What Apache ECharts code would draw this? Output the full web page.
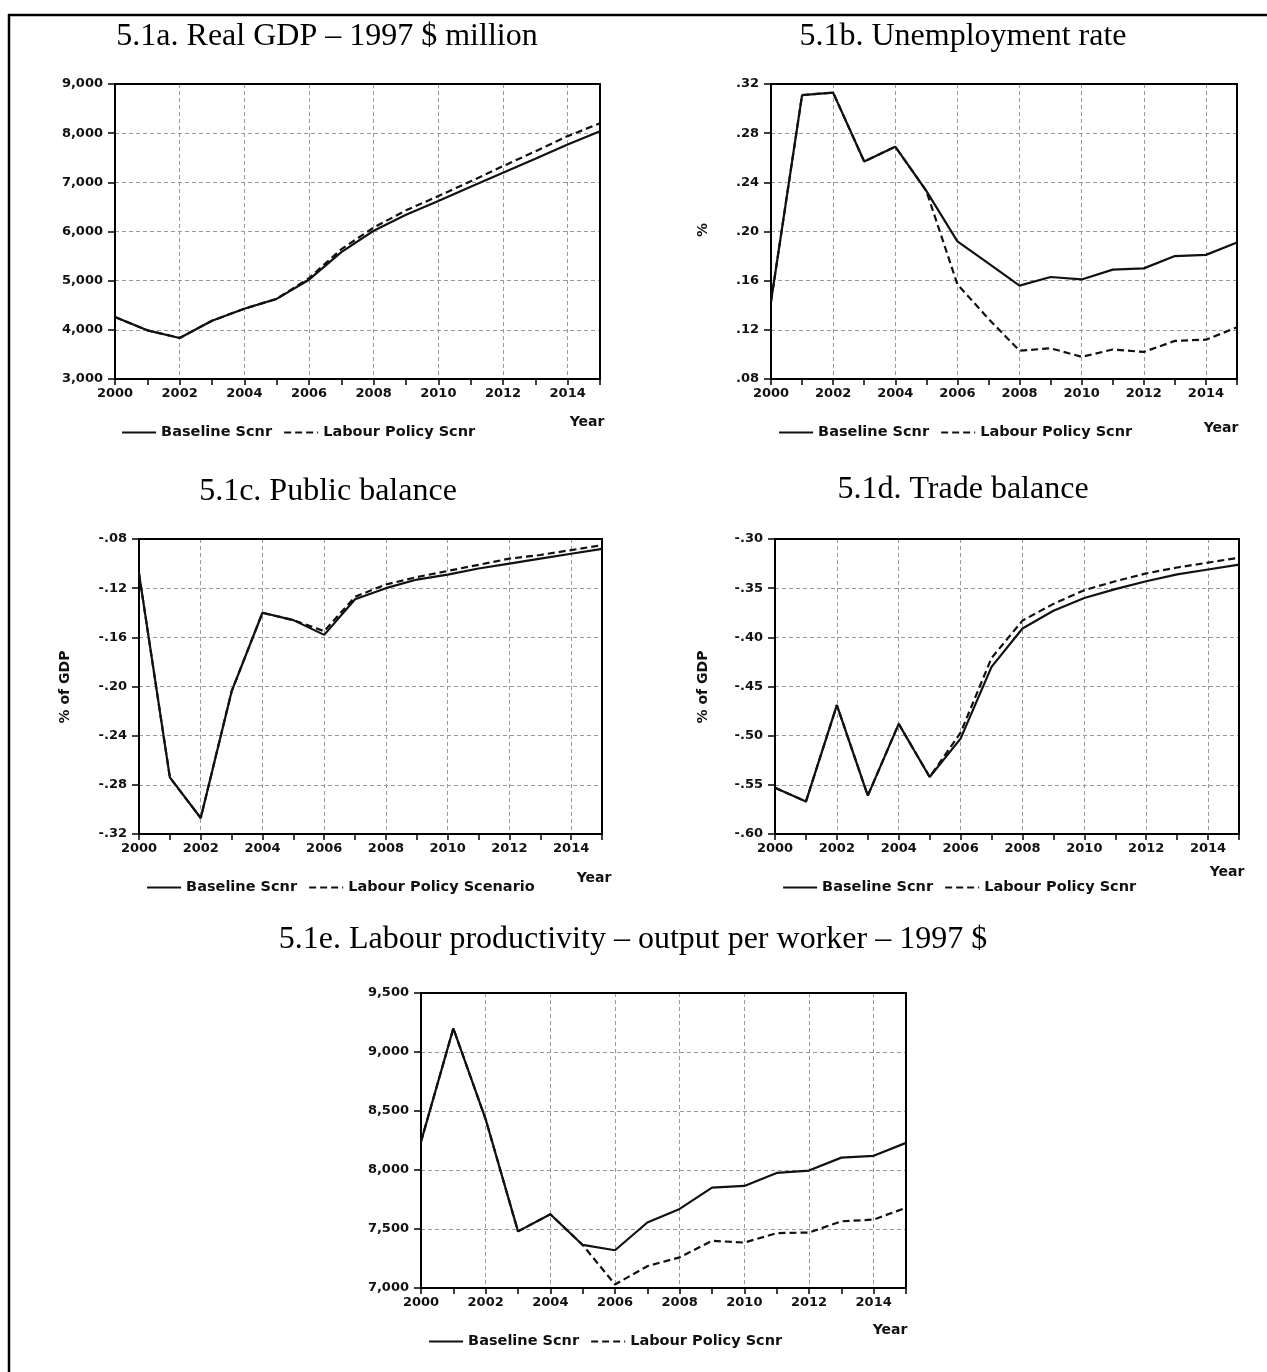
<!DOCTYPE html>
<html>
<head>
<meta charset="utf-8">
<script src="https://cdn.jsdelivr.net/npm/echarts@6/dist/echarts.min.js"></script>
<style>
html,body{margin:0;padding:0;background:#fff;}
#chart{width:1267px;height:1372px;}
</style>
</head>
<body>
<div id="chart"></div>
<script>
// ---------------- DATA ----------------
const years = ['2000','2001','2002','2003','2004','2005','2006','2007','2008','2009','2010','2011','2012','2013','2014','2015'];

const titles = [
  '5.1a. Real GDP \u2013 1997 $ million',
  '5.1b. Unemployment rate',
  '5.1c. Public balance',
  '5.1d. Trade balance',
  '5.1e. Labour productivity \u2013 output per worker \u2013 1997 $'
];
const baseName = 'Baseline Scnr';
const labourNames = ['Labour Policy Scnr','Labour Policy Scnr','Labour Policy Scenario','Labour Policy Scnr','Labour Policy Scnr'];
const yNames = ['', '%', '% of GDP', '% of GDP', ''];

const gdpBase    = [4260, 3990, 3835, 4185, 4430, 4630, 5020, 5580, 6015, 6340, 6620, 6910, 7195, 7480, 7770, 8040];
const gdpLabour  = [4260, 3990, 3835, 4185, 4430, 4630, 5050, 5640, 6080, 6430, 6720, 7020, 7330, 7630, 7940, 8200];

const unempBase   = [0.143, 0.311, 0.313, 0.257, 0.269, 0.233, 0.192, 0.174, 0.156, 0.163, 0.161, 0.169, 0.170, 0.180, 0.181, 0.191];
const unempLabour = [0.143, 0.311, 0.313, 0.257, 0.269, 0.233, 0.157, 0.129, 0.103, 0.105, 0.098, 0.104, 0.102, 0.111, 0.112, 0.122];

const publicBase   = [-0.108, -0.274, -0.307, -0.204, -0.140, -0.146, -0.158, -0.129, -0.120, -0.113, -0.109, -0.104, -0.100, -0.096, -0.092, -0.088];
const publicLabour = [-0.108, -0.274, -0.307, -0.204, -0.140, -0.146, -0.155, -0.127, -0.117, -0.111, -0.106, -0.101, -0.096, -0.093, -0.089, -0.085];

const tradeBase   = [-0.553, -0.567, -0.469, -0.561, -0.488, -0.542, -0.503, -0.430, -0.391, -0.373, -0.360, -0.351, -0.343, -0.336, -0.331, -0.326];
const tradeLabour = [-0.553, -0.567, -0.469, -0.561, -0.488, -0.542, -0.497, -0.421, -0.383, -0.366, -0.352, -0.343, -0.335, -0.329, -0.324, -0.319];

const prodBase   = [8240, 9200, 8430, 7480, 7625, 7365, 7320, 7555, 7670, 7850, 7865, 7975, 7995, 8105, 8120, 8230];
const prodLabour = [8240, 9200, 8430, 7480, 7625, 7365, 7030, 7185, 7260, 7400, 7385, 7465, 7470, 7565, 7580, 7680];

// y-axis ranges (min, max, interval)
const yMin = [3000, 0.08, -0.32, -0.60, 7000];
const yMax = [9000, 0.32, -0.08, -0.30, 9500];
const yStep = [1000, 0.04, 0.04, 0.05, 500];

const baseSeries = [gdpBase, unempBase, publicBase, tradeBase, prodBase];
const labourSeries = [gdpLabour, unempLabour, publicLabour, tradeLabour, prodLabour];

// ---------------- LAYOUT ----------------
const layout = [
  {grid:{left:115, top:84,  width:485, height:295}, title:[327,37],  yname:null,     year:[587,422],  legend:[121,425]},
  {grid:{left:771, top:84,  width:466, height:295}, title:[963,37],  yname:[703,230], year:[1221,428], legend:[778,425]},
  {grid:{left:139, top:539, width:463, height:295}, title:[328,492], yname:[65,687],  year:[594,878],  legend:[146,880]},
  {grid:{left:775, top:539, width:464, height:295}, title:[963,490], yname:[703,687], year:[1227,872], legend:[782,880]},
  {grid:{left:421, top:993, width:485, height:295}, title:[633,940], yname:null,     year:[890,1330], legend:[428,1334]}
];

const BOLD = '"DejaVu Sans", Arial, sans-serif';
const SERIF = '"Liberation Serif", "Times New Roman", serif';

function fmtY(v, i) {
  if (i === 0 || i === 4) return Math.round(v).toLocaleString('en-US');
  let s = Math.abs(v).toFixed(2).replace(/^0\./, '.');
  return (v < -1e-9 ? '-' : '') + s;
}

const grids = [], xAxes = [], yAxes = [], series = [], legends = [], graphics = [];

for (let i = 0; i < 5; i++) {
  const L = layout[i];
  grids.push(Object.assign({show:true, borderColor:'#000', borderWidth:2, backgroundColor:'transparent', z:3}, L.grid));
  xAxes.push({
    type:'category', gridIndex:i, data:years, boundaryGap:false,
    axisLine:{show:true, lineStyle:{color:'#000', width:2}},
    axisTick:{show:true, interval:0, length:6, lineStyle:{color:'#000', width:1.5}},
    axisLabel:{interval:1, margin:8, color:'#111', fontFamily:BOLD, fontWeight:'bold', fontSize:13},
    splitLine:{show:true, interval:function(idx){ return idx > 0 && idx % 2 === 0 && idx < 15; },
      lineStyle:{color:'#999', type:[4,3], width:1}}
  });
  yAxes.push({
    type:'value', gridIndex:i, min:yMin[i], max:yMax[i], interval:yStep[i],
    axisLine:{show:true, lineStyle:{color:'#000', width:2}},
    axisTick:{show:true, length:7, lineStyle:{color:'#000', width:1.5}},
    axisLabel:{margin:12, color:'#111', fontFamily:BOLD, fontWeight:'bold', fontSize:13,
      formatter:(function(idx){ return function(v){ return fmtY(v, idx); }; })(i)},
    splitLine:{show:true, lineStyle:{color:'#999', type:[4,3], width:1}}
  });
  series.push({
    name:baseName, type:'line', xAxisIndex:i, yAxisIndex:i, data:baseSeries[i],
    symbol:'none', lineStyle:{color:'#111', width:2.2, type:'solid'}, itemStyle:{color:'#111'},
    animation:false, z:4
  });
  series.push({
    name:labourNames[i], type:'line', xAxisIndex:i, yAxisIndex:i, data:labourSeries[i],
    symbol:'none', lineStyle:{color:'#111', width:2.2, type:[7,4]}, itemStyle:{color:'#111'},
    animation:false, z:5
  });
  legends.push({
    data:[baseName, labourNames[i]], left:L.legend[0], top:L.legend[1], orient:'horizontal',
    padding:0, itemWidth:34, itemHeight:14, itemGap:11, selectedMode:false,
    itemStyle:{color:'rgba(0,0,0,0)', borderWidth:0, opacity:0},
    lineStyle:{width:2.2},
    textStyle:{fontFamily:BOLD, fontWeight:'bold', fontSize:14.5, color:'#111'}
  });
  graphics.push({type:'text', x:L.title[0], y:L.title[1], style:{text:titles[i], font:'32px ' + SERIF, fill:'#000', textAlign:'center', textVerticalAlign:'middle'}});
  graphics.push({type:'text', x:L.year[0], y:L.year[1], style:{text:'Year', font:'bold 14px ' + BOLD, fill:'#111', textAlign:'center', textVerticalAlign:'middle'}});
  if (L.yname) {
    graphics.push({type:'text', x:L.yname[0], y:L.yname[1], rotation:Math.PI/2,
      style:{text:yNames[i], font:'bold 14px ' + BOLD, fill:'#111', textAlign:'center', textVerticalAlign:'middle'}});
  }
}
// outer frame (top and left edges)
graphics.push({type:'line', shape:{x1:9, y1:14, x2:9, y2:1372}, style:{stroke:'#000', lineWidth:2.5}});
graphics.push({type:'line', shape:{x1:8, y1:15, x2:1267, y2:15}, style:{stroke:'#000', lineWidth:2.5}});

const chart = echarts.init(document.getElementById('chart'), null, {renderer:'canvas'});
chart.setOption({
  animation:false,
  backgroundColor:'#fff',
  grid:grids, xAxis:xAxes, yAxis:yAxes, series:series, legend:legends,
  graphic:{elements:graphics}
});
</script>
</body>
</html>
